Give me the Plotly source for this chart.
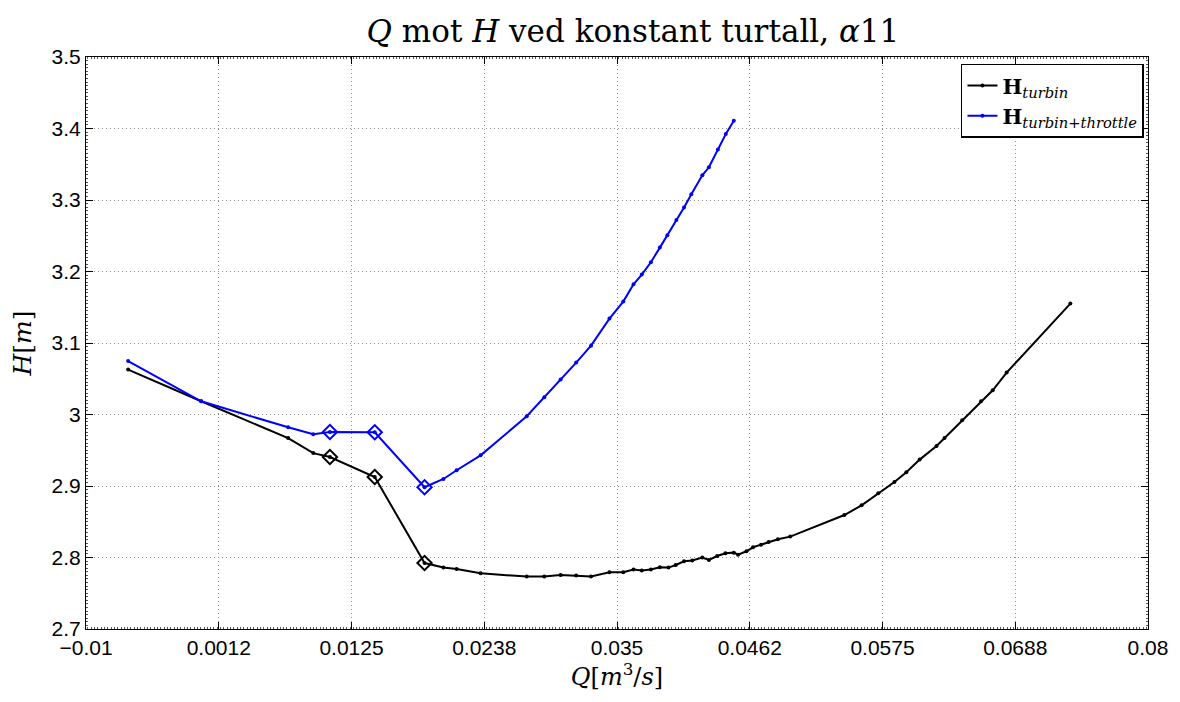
import plotly.graph_objects as go

# ---- data ----
q_turbin = [-0.00643, -0.00024, 0.00713, 0.00926, 0.01067, 0.01447, 0.01869, 0.02029,
            0.02141, 0.02344, 0.02735, 0.02884, 0.03022, 0.03154, 0.0328, 0.03436,
            0.03553, 0.0364, 0.0371, 0.03787, 0.03863, 0.03936, 0.03998, 0.04068,
            0.04138, 0.04223, 0.04279, 0.04349, 0.04419, 0.0449, 0.04526, 0.04597,
            0.04653, 0.04721, 0.04785, 0.04864, 0.04968, 0.05427, 0.05573, 0.05714,
            0.05851, 0.05952, 0.06065, 0.06208, 0.06276, 0.06425, 0.06585, 0.06684,
            0.06802, 0.07342]
h_turbin = [3.0628, 3.0185, 2.967, 2.946, 2.9406, 2.9126, 2.7923, 2.7859,
            2.7839, 2.7779, 2.7733, 2.7733, 2.7755, 2.7747, 2.7733, 2.7793,
            2.7793, 2.7831, 2.7817, 2.7831, 2.7863, 2.7859, 2.7895, 2.7947,
            2.7957, 2.7999, 2.7965, 2.8021, 2.8059, 2.8068, 2.804, 2.8087,
            2.8143, 2.818, 2.8217, 2.8255, 2.8292, 2.8594, 2.873, 2.8898,
            2.9056, 2.9192, 2.9369, 2.9559, 2.9671, 2.9919, 3.0185, 3.0338,
            3.0586, 3.1551]

q_throttle = [-0.00643, -0.00024, 0.00713, 0.00926, 0.01067, 0.01447, 0.01869, 0.02029,
              0.02141, 0.02344, 0.02735, 0.02884, 0.03022, 0.03154, 0.0328, 0.03436,
              0.03553, 0.0364, 0.0371, 0.03787, 0.03863, 0.03927, 0.04003, 0.04068,
              0.0413, 0.04223, 0.04279, 0.04355, 0.04422, 0.0449]
h_throttle = [3.0748, 3.0185, 2.9821, 2.9723, 2.9755, 2.9751, 2.8982, 2.9098,
              2.922, 2.9429, 2.9975, 3.024, 3.0488, 3.0726, 3.0963, 3.1341,
              3.1579, 3.1821, 3.1957, 3.2129, 3.2334, 3.2506, 3.272, 3.2894,
              3.308, 3.3345, 3.3457, 3.3705, 3.3923, 3.411]

# indices of the highlighted (diamond) points
marked_idx = [4, 5, 6]

x_tickvals = [-0.01, 0.00125, 0.0125, 0.02375, 0.035, 0.04625, 0.0575, 0.06875, 0.08]
x_ticktext = ["\u22120.01", "0.0012", "0.0125", "0.0238", "0.035", "0.0462", "0.0575", "0.0688", "0.08"]
y_tickvals = [2.7, 2.8, 2.9, 3.0, 3.1, 3.2, 3.3, 3.4, 3.5]
y_ticktext = ["2.7", "2.8", "2.9", "3", "3.1", "3.2", "3.3", "3.4", "3.5"]

serif = "DejaVu Serif, Liberation Serif, serif"
sans = "Liberation Sans, Arial, sans-serif"

fig = go.Figure()
fig.add_trace(go.Scatter(
    x=q_turbin, y=h_turbin, mode="lines+markers",
    name="<b>H</b><sub><i>turbin</i></sub>",
    line=dict(color="black", width=2),
    marker=dict(color="black", size=4)))
fig.add_trace(go.Scatter(
    x=q_throttle, y=h_throttle, mode="lines+markers",
    name="<b>H</b><sub><i>turbin+throttle</i></sub>",
    line=dict(color="#0000ff", width=2),
    marker=dict(color="#0000ff", size=4)))
fig.add_trace(go.Scatter(
    x=[q_turbin[i] for i in marked_idx], y=[h_turbin[i] for i in marked_idx],
    mode="markers", showlegend=False,
    marker=dict(symbol="diamond-open", size=11, color="black", line=dict(width=2))))
fig.add_trace(go.Scatter(
    x=[q_throttle[i] for i in marked_idx], y=[h_throttle[i] for i in marked_idx],
    mode="markers", showlegend=False,
    marker=dict(symbol="diamond-open", size=11, color="#0000ff", line=dict(width=2))))

axis_common = dict(
    showline=True, linecolor="black", linewidth=1, mirror="ticks",
    ticks="inside", ticklen=7, tickcolor="black",
    showgrid=True, gridcolor="#8c8c8c", griddash="1px,3px", gridwidth=1,
    zeroline=False, tickfont=dict(family=sans, size=21, color="black"),
)

fig.update_xaxes(range=[-0.01, 0.08], tickmode="array", tickvals=x_tickvals, ticktext=x_ticktext,
                 minor=dict(dtick=0.01125 / 40, ticks="inside", ticklen=2, tickcolor="#555", showgrid=False),
                 title=dict(text="<i>Q</i>[<i>m</i><sup>3</sup>/<i>s</i>]",
                            font=dict(family=serif, size=24, color="black"), standoff=4),
                 **axis_common)
fig.update_yaxes(range=[2.7, 3.5], tickmode="array", tickvals=y_tickvals, ticktext=y_ticktext,
                 minor=dict(dtick=0.005, ticks="inside", ticklen=2, tickcolor="#555", showgrid=False),
                 title=dict(text="<i>H</i>[<i>m</i>]",
                            font=dict(family=serif, size=25, color="black"), standoff=12),
                 **axis_common)

fig.update_layout(
    width=1180, height=702,
    margin=dict(l=86, r=28, t=57, b=73),
    paper_bgcolor="white", plot_bgcolor="white",
    title=dict(text="<i>Q</i> mot <i>H</i> ved konstant turtall, <i>\u03b1</i>11",
               x=0.515, xref="paper", xanchor="center", y=0.955, yanchor="middle",
               font=dict(family=serif, size=31, color="black")),
    legend=dict(x=0.9962, xanchor="right", y=0.988, yanchor="top",
                bordercolor="black", borderwidth=1.5, bgcolor="white",
                font=dict(family=serif, size=21, color="black"),
                tracegroupgap=0, itemwidth=30),
    showlegend=True,
)

fig.write_html("out.html")
